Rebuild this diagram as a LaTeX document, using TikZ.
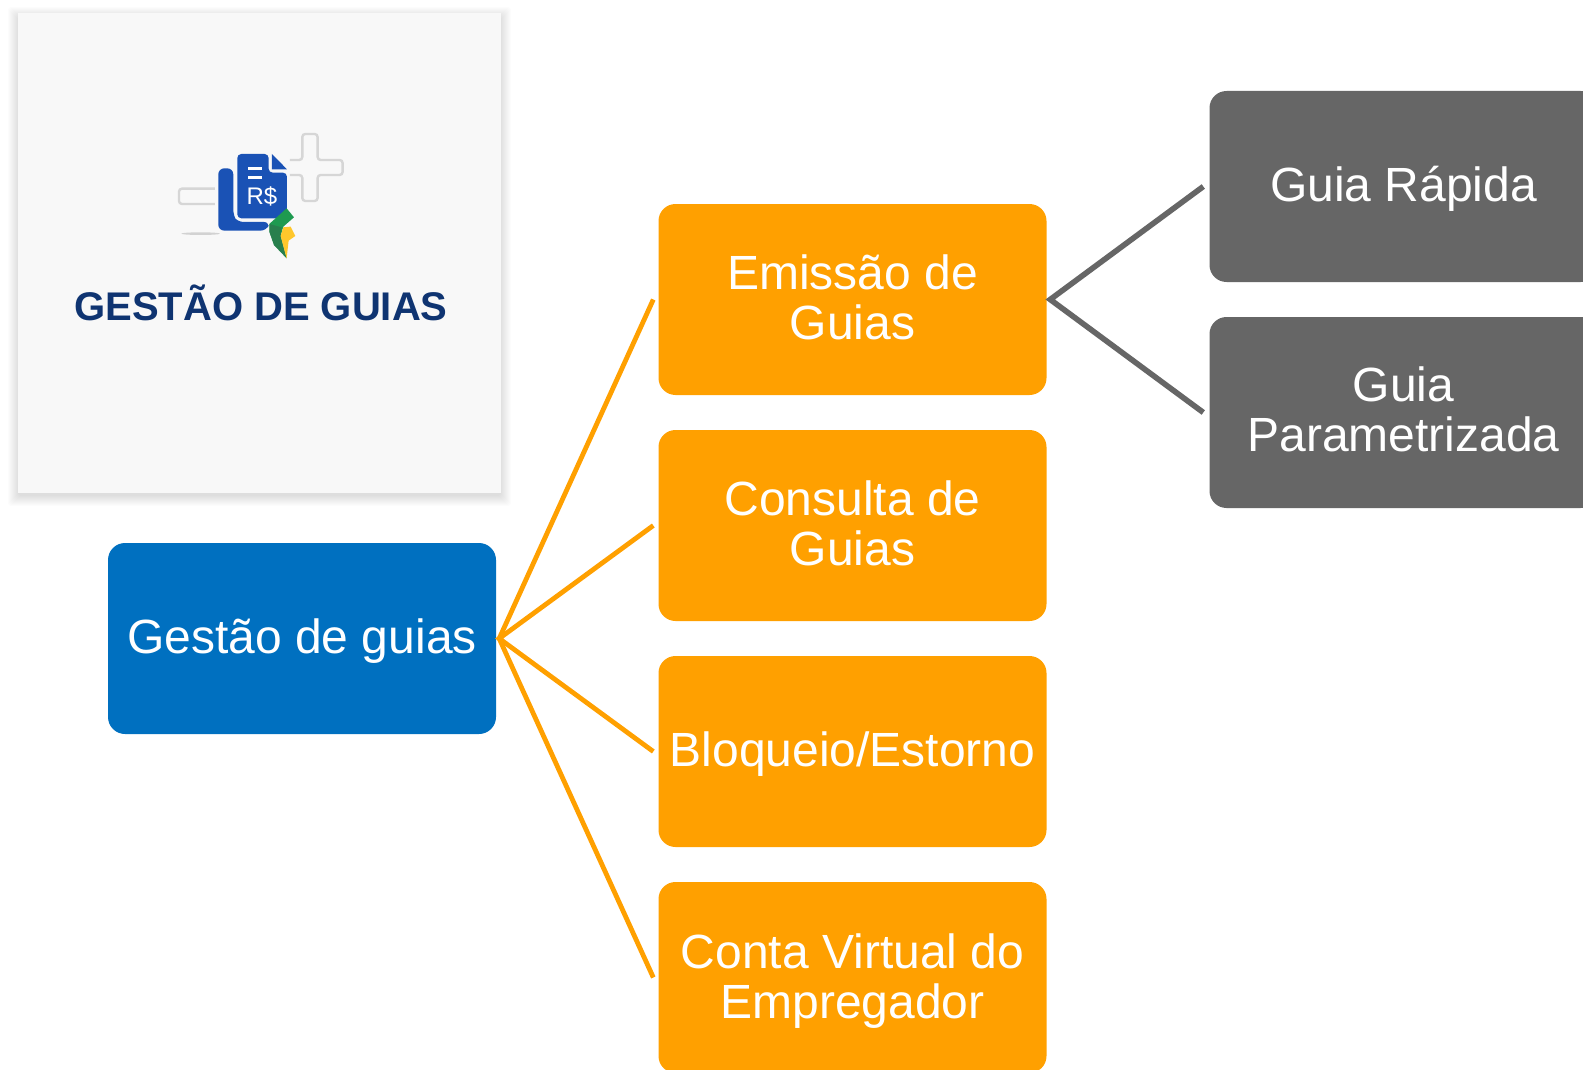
\documentclass[tikz,border=0pt]{standalone}
\usepackage{fontspec}
\setmainfont{Liberation Sans}
\definecolor{boxblue}{HTML}{0070C0}
\definecolor{boxorange}{HTML}{FFA000}
\definecolor{boxgray}{HTML}{666666}
\definecolor{cardbg}{HTML}{F8F8F8}
\definecolor{titleblue}{HTML}{0F3471}
\definecolor{docblue}{HTML}{1A52B5}
\definecolor{ghost}{HTML}{D6D6D6}
\definecolor{leafgreen}{HTML}{1E9A50}
\definecolor{leafdark}{HTML}{2F6E4B}
\definecolor{leafyellow}{HTML}{FFC72C}
% one line of text, with its baseline placed by the height and depth of a strut
\newcommand\oneline[3]{\rule[-#2pt]{0pt}{\dimexpr#1pt+#2pt\relax}#3}
\newcommand\twolines[4]{\rule{0pt}{#1pt}#3\\#4\rule[-#2pt]{0pt}{#2pt}}
\tikzset{
  box/.style={rounded corners=17pt,minimum width=388pt,minimum height=191pt,inner sep=0pt,
    text=white,align=center,font=\fontsize{48}{50}\selectfont},
  orangebox/.style={box,fill=boxorange},
  bluebox/.style={box,fill=boxblue},
  graybox/.style={box,fill=boxgray},
  orangeline/.style={draw=boxorange,line width=4.8pt,miter limit=10},
  grayline/.style={draw=boxgray,line width=5.6pt,miter limit=10},
  ghostline/.style={draw=ghost,line width=2.4pt,rounded corners=3pt},
}
\begin{document}
\begin{tikzpicture}[x=1pt,y=-1pt]
\clip (0,0) rectangle (1583,1070);
\fill[white] (0,0) rectangle (1583,1070);
% card with soft shadow
\foreach \i in {11,10,...,1}{
  \fill[black,opacity=0.010,rounded corners=3pt] (18-\i+1,13-\i+5) rectangle (501+\i-1,493+\i+2);
}
\fill[cardbg] (18,13) rectangle (501,493);
% logo, in coordinates of 1/3 px
\begin{scope}[x=0.3333pt,y=-0.3333pt,shift={(450,330)}]
  \fill[gray!55,opacity=.6] (152,371) ellipse (58 and 4);
  \draw[ghostline] (195,236) -- (87,236) -- (87,282) -- (195,282);
  \draw[ghostline] (420,150) -- (457,150) -- (457,72) -- (503,72) -- (503,150) -- (578,150)
     -- (578,195) -- (503,195) -- (503,273) -- (457,273) -- (457,195) -- (420,195);
  \fill[docblue,rounded corners=6pt] (205,175) -- (250,175) -- (250,318) -- (262,336) -- (360,336)
     -- (350,362) -- (205,362) -- cycle;
  \fill[docblue,rounded corners=4pt] (262,132) -- (356,132) -- (356,188) -- (411,188) -- (411,325)
     -- (262,325) -- cycle;
  \fill[docblue] (366,132) -- (411,178) -- (366,178) -- cycle;
  \fill[white] (295,171) rectangle (335,180);
  \fill[white] (295,197) rectangle (335,206);
  \node[text=white,font=\fontsize{24}{24}\selectfont,inner sep=0pt] (rs) at (336,260) {R\$};
  \fill[leafgreen] (410,295) -- (432,322) -- (400,350) -- (392,378) -- (410,445) -- (372,405)
     -- (358,365) -- (358,342) -- cycle;
  \fill[leafdark,opacity=.6] (358,342) -- (395,352) -- (392,378) -- (410,445) -- (372,405) -- (358,365) -- cycle;
  \fill[leafyellow] (392,378) -- (400,352) -- (422,350) -- (436,378) -- (416,392) -- (410,445) -- cycle;
\end{scope}
\node[text=titleblue,font=\fontsize{40}{40}\selectfont\bfseries,anchor=base,inner sep=0pt]
   (title) at (261,320) {GESTÃO DE GUIAS};
% boxes
\node[bluebox] (root) at (302,638.5) {\oneline{40}{9}{Gestão de guias}};
\node[orangebox] (emissao) at (852.5,299.5) {\twolines{40}{9.8}{Emissão de}{Guias}};
\node[orangebox] (consulta) at (852.5,525.5) {\twolines{40}{9.8}{Consulta de}{Guias}};
\node[orangebox] (bloqueio) at (852.5,751.5) {\oneline{40}{9}{Bloqueio/Estorno}};
\node[orangebox] (conta) at (852.5,977.5) {\twolines{46}{15}{Conta Virtual do}{Empregador}};
\node[graybox] (rapida) at (1403.5,186.5) {\oneline{40}{11}{Guia Rápida}};
\node[graybox] (param) at (1403.5,412.5) {\twolines{40}{13}{Guia}{Parametrizada}};
% connectors
\coordinate (jroot) at ([xshift=3pt]root.east);
\coordinate (jem) at ([xshift=3.5pt]emissao.east);
\path[orangeline] ([xshift=-5pt]emissao.west) -- (jroot) -- ([xshift=-5pt]conta.west);
\path[orangeline] ([xshift=-5pt]consulta.west) -- (jroot) -- ([xshift=-5pt]bloqueio.west);
\path[grayline] ([xshift=-6pt]rapida.west) -- (jem) -- ([xshift=-6pt]param.west);
\end{tikzpicture}
\end{document}
